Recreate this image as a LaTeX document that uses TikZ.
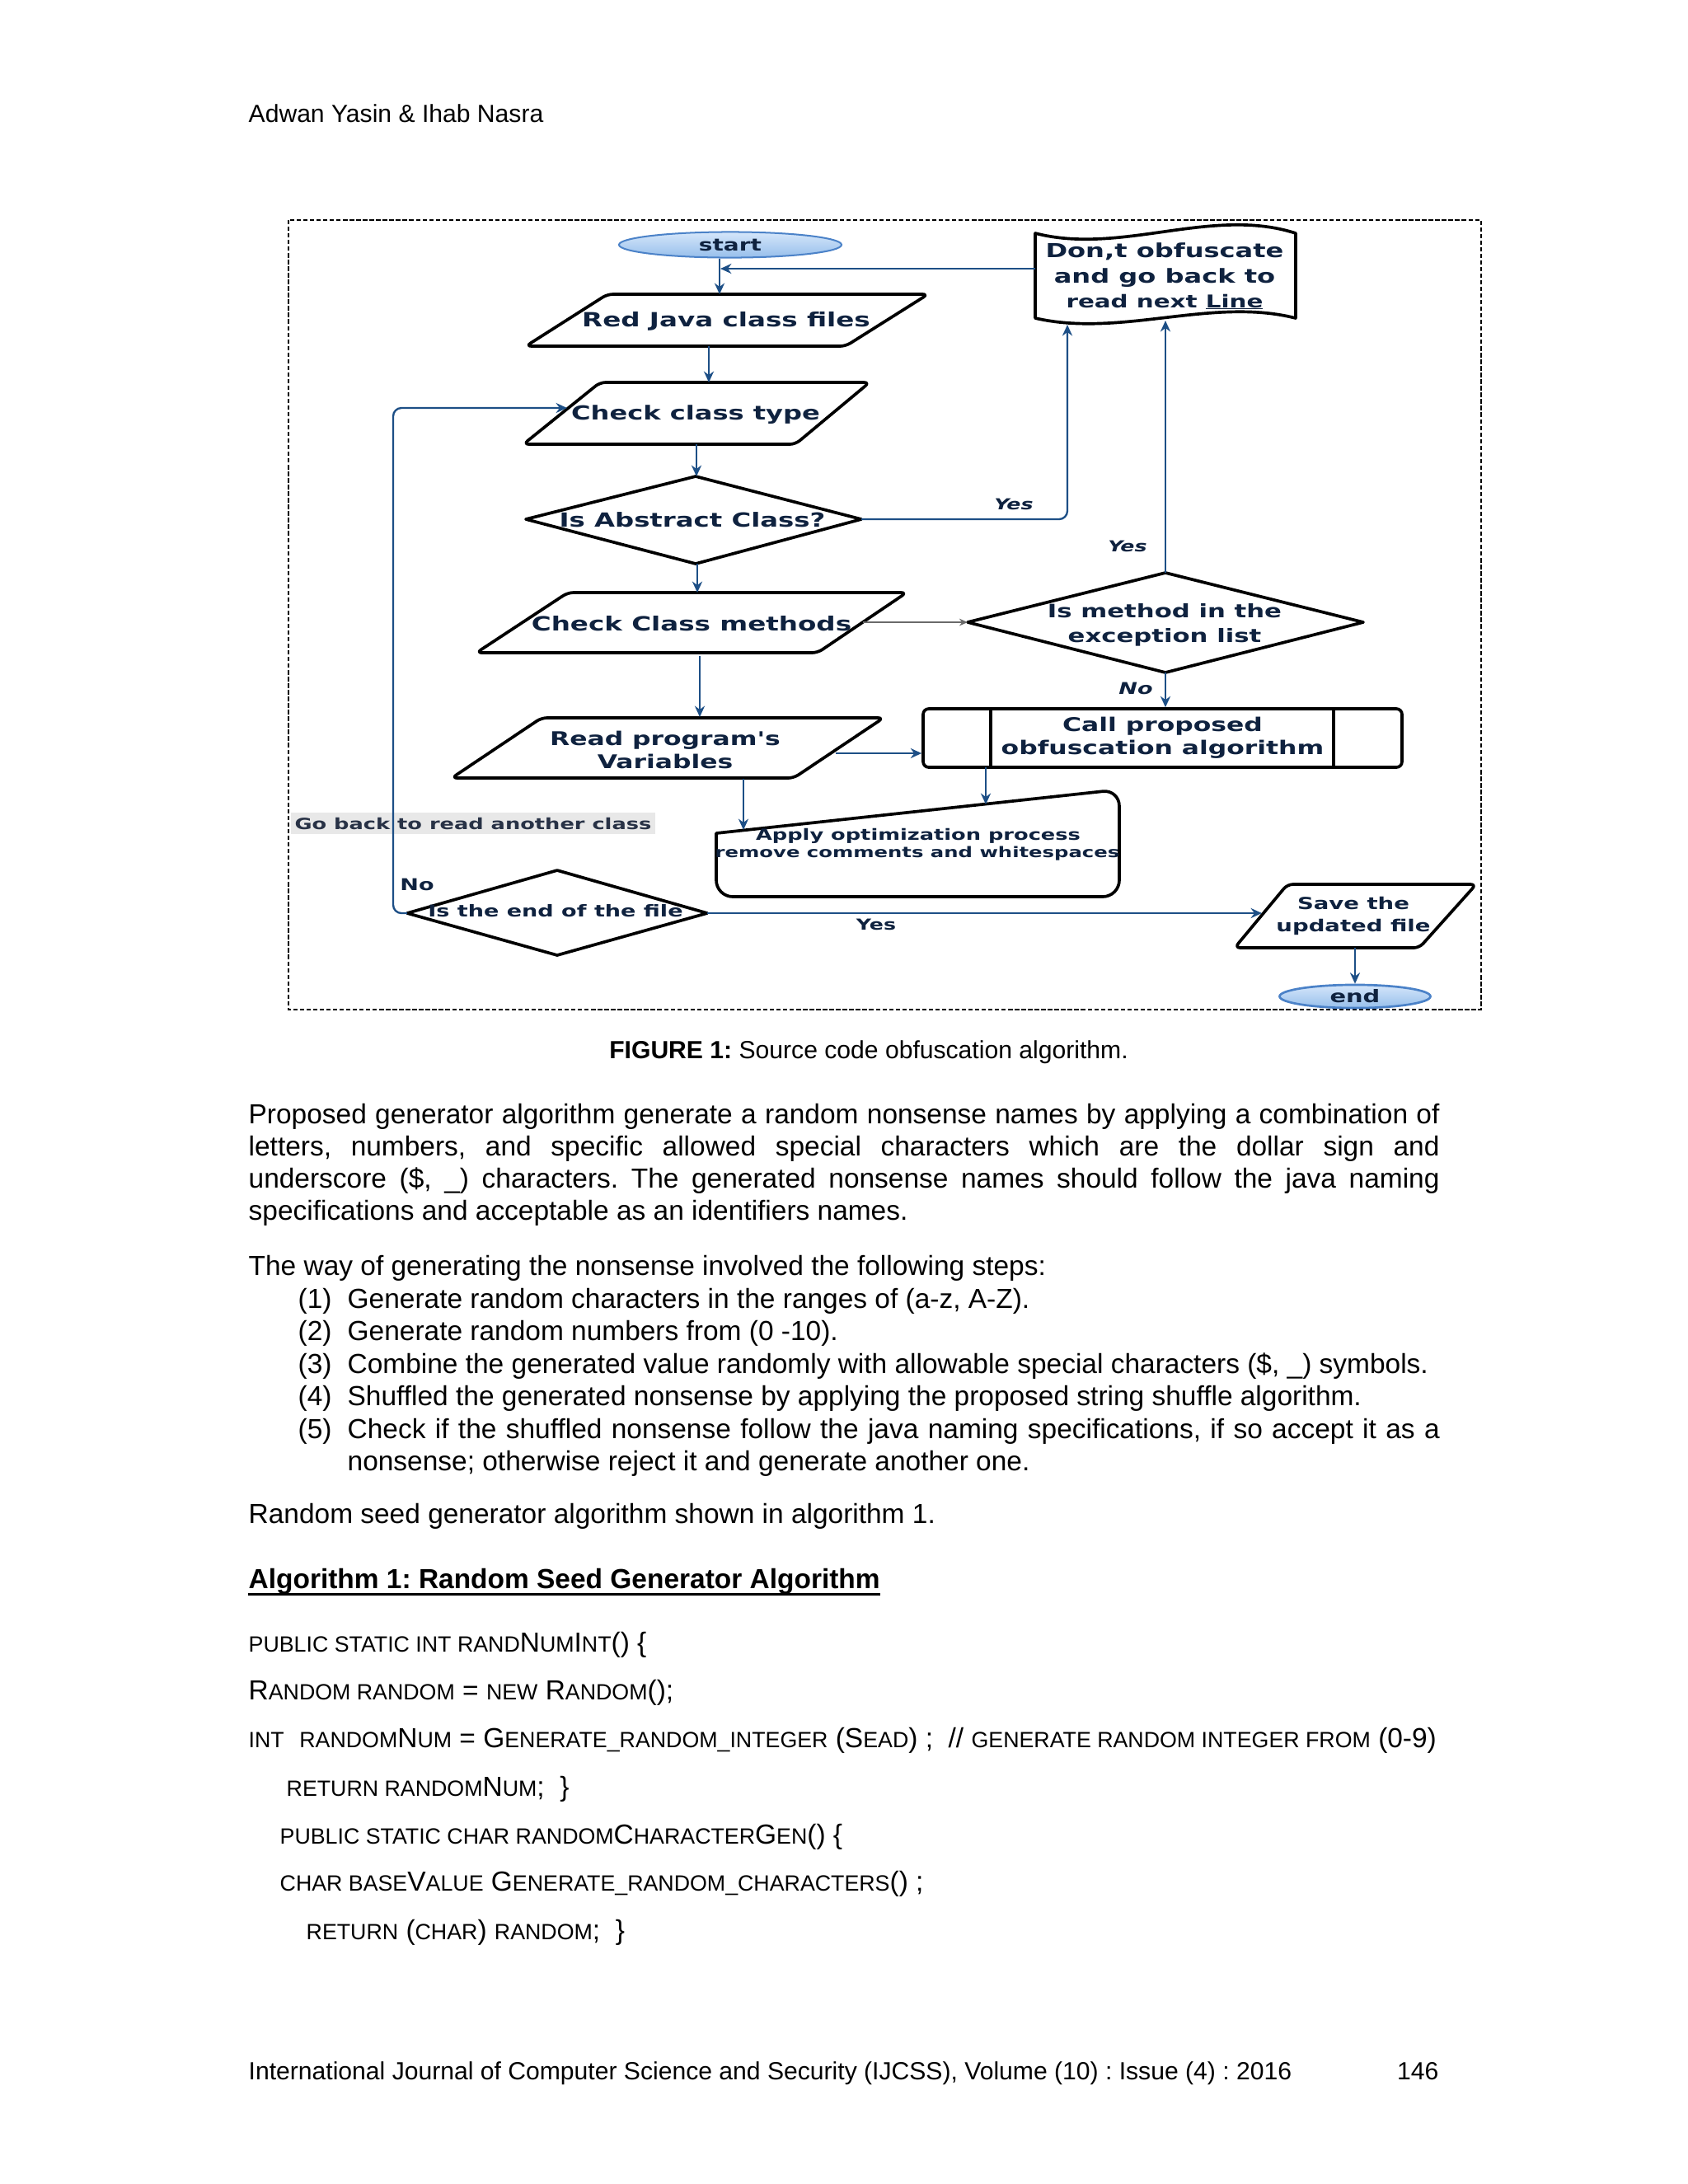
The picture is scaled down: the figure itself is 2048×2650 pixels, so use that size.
\documentclass[tikz,border=0pt]{standalone}
\usepackage{fontspec}
\setmainfont{Liberation Sans}
\newfontfamily\fcf[FakeStretch=1.37]{DejaVu Sans}
\usetikzlibrary{arrows.meta,shapes.geometric}
\frenchspacing
\definecolor{navy}{HTML}{0F223F}
\definecolor{conblue}{HTML}{1D4F86}
\definecolor{ellt}{HTML}{D5E6FA}
\definecolor{ellb}{HTML}{97BFEB}
\definecolor{elld}{HTML}{4B82C8}
\definecolor{lblbg}{HTML}{E8E8E8}
\definecolor{lbltx}{HTML}{283246}
\definecolor{grayarr}{HTML}{6A6A6A}
\newcommand\ffs[2]{\fcf\bfseries\fontsize{#1}{#2}\selectfont}
\newcommand\ffi[2]{\fcf\bfseries\itshape\fontsize{#1}{#2}\selectfont}
\newcommand\sm[1]{{\fontsize{8}{9}\selectfont #1}}
\newcommand\jl[2]{\makebox[#1][s]{#2}}
\newcommand\ulword[1]{{\setbox0\hbox{#1}\rlap{\rule[-0.5pt]{\wd0}{0.35pt}}#1}}
\begin{document}
\begin{tikzpicture}[x=0.29883pt,y=-0.29883pt,
  shp/.style={draw=black, line width=1.1pt, rounded corners=2pt, line join=round},
  conn/.style={draw=conblue, line width=0.7pt, -{Stealth[length=4pt,width=3.6pt]}},
  ft/.style={text=navy, inner sep=0pt, align=center},
  bodytxt/.style={inner sep=0pt, anchor=base west, font=\fontsize{10}{11.5}\selectfont},
  pgtxt/.style={inner sep=0pt, anchor=base west, font=\fontsize{9}{10.5}\selectfont}]
\useasboundingbox (0,0) rectangle (2048,2650);
\fill[white] (0,0) rectangle (2048,2650);

% ---------------- page text ----------------
\node[pgtxt] (hdr) at (301,148) {Adwan Yasin \& Ihab Nasra};

% ---------------- figure frame ----------------
\draw[black, line width=0.35pt, dash pattern=on 1.6pt off 0.8pt] (350,267) rectangle (1797,1225);

% ---------------- shapes ----------------
\node[ellipse, draw=elld, line width=0.6pt, top color=ellt, bottom color=ellb,
      minimum width=80.7pt, minimum height=9.3pt, inner sep=0pt, text=navy,
      font={\ffs{6.1}{7}}] (start) at (886,297) {start};
\node[ellipse, draw=elld, line width=0.8pt, top color=ellt, bottom color=ellb,
      minimum width=54.7pt, minimum height=8.4pt, inner sep=0pt, text=navy,
      font={\ffs{6.3}{7}}] (end) at (1644,1209) {end};

% Don't obfuscate (tape)
\draw[shp, rounded corners=0pt] (1256,283) .. controls (1360,310) and (1470,250) .. (1572,283)
   -- (1572,386) .. controls (1470,360) and (1360,410) .. (1256,386) -- cycle;
\node[ft, font={\ffs{7.0}{9}}] (dont) at (1413,335)
   {Don,t obfuscate\\and go back to\\{\fontsize{6.4}{9}\selectfont read next \ulword{Line}}};

% Red Java class files
\draw[shp] (737,357) -- (1126,357) -- (1026,420) -- (638,420) -- cycle;
\node[ft, font={\ffs{7.1}{9}}] (rj) at (881,390) {Red Java class files};

% Check class type
\draw[shp] (728,464) -- (1055,464) -- (965,539) -- (635,539) -- cycle;
\node[ft, font={\ffs{7.0}{9}}] (ct) at (844,503) {Check class type};

% Is Abstract Class?
\draw[shp, rounded corners=0pt] (638,630) -- (844,578) -- (1045,630) -- (844,684) -- cycle;
\node[ft, font={\ffs{7.05}{9}}] (ab) at (840,631) {Is Abstract Class?};

% Check Class methods
\draw[shp] (689,719) -- (1100,719) -- (992,792) -- (578,792) -- cycle;
\node[ft, font={\ffs{7.1}{9}}] (cm) at (839,757) {Check Class methods};

% Is method in the exception list
\draw[shp, rounded corners=0pt] (1174,755) -- (1414,695) -- (1654,755) -- (1414,816) -- cycle;
\node[ft, font={\ffs{6.7}{9}}] (im) at (1413,758) {Is method in the\\exception list};

% Call proposed obfuscation algorithm
\node[draw=black, line width=1.1pt, rounded corners=2pt, minimum width=173.6pt, minimum height=21.2pt,
      inner sep=0pt, text=navy, align=center, font={\ffs{6.85}{8.4}}] (call) at (1410.5,895.5)
      {Call proposed\\obfuscation algorithm};
\draw[black, line width=1.1pt] (1202,860) -- (1202,931);
\draw[black, line width=1.1pt] (1618,860) -- (1618,931);

% Read program's Variables
\draw[shp] (657,871) -- (1072,871) -- (963,944) -- (548,944) -- cycle;
\node[ft, font={\ffs{6.85}{8.4}}] (rp) at (807,910) {Read program's\\Variables};

% Apply optimization process
\draw[shp, rounded corners=6pt, line cap=round] (869,1011) -- (1358,958) -- (1358,1088) -- (869,1088) -- (869,1011);
\node[ft, font={\ffs{5.6}{6.6}}] (ap1) at (1114,1014) {Apply optimization process};
\node[ft, font={\ffs{5.3}{6.6}}] (ap2) at (1113,1036) {remove comments and whitespaces};

% Go back label (under the loop line)
\node[fill=lblbg, text=lbltx, inner xsep=1.5pt, inner ysep=1.6pt, font={\ffs{5.6}{7}}] (goback) at (574,999)
   {Go back to read another class};

% Is the end of the file
\draw[shp, rounded corners=0pt] (494,1108) -- (676,1056) -- (858,1108) -- (676,1159) -- cycle;
\node[ft, font={\ffs{5.9}{7}}] (ie) at (674,1105) {Is the end of the file};

% Save the updated file
\draw[shp] (1562,1073) -- (1791,1073) -- (1722,1150) -- (1498,1150) -- cycle;
\node[ft, font={\ffs{6.0}{8.1}}] (sv) at (1642,1111) {Save the\\updated file};

% ---------------- connection points ----------------
\coordinate (rj-in) at (873,357);
\coordinate (join) at (874,326);
\coordinate (dont-l) at (1256,326);
\coordinate (rj-out) at (860,420);
\coordinate (ct-in) at (860,464);
\coordinate (ct-out) at (845,539);
\coordinate (ab-t) at (845,578);
\coordinate (ab-b) at (846,684);
\coordinate (cm-in) at (846,719);
\coordinate (ab-r) at (1045,630);
\coordinate (dont-b1) at (1295,394);
\coordinate (im-t) at (1414,695);
\coordinate (dont-b2) at (1414,389);
\coordinate (cm-r) at (1047,755);
\coordinate (im-l) at (1174,755);
\coordinate (im-b) at (1414,816);
\coordinate (cm-b) at (849,796);
\coordinate (rp-t) at (849,870);
\coordinate (rp-r) at (1014,914);
\coordinate (rp-b) at (902,945);
\coordinate (ap-t1) at (902,1007);
\coordinate (call-b) at (1196,931);
\coordinate (ap-t2) at (1196,976);
\coordinate (ie-l) at (494,1108);
\coordinate (ct-l) at (688,495);
\coordinate (ie-r) at (858,1108);
\coordinate (sv-l) at (1531,1108);
\coordinate (sv-b) at (1644,1150);

% ---------------- connectors ----------------
\draw[conn] (start.south -| rj-in) -- (rj-in);
\draw[conn] (dont-l) -- (join);
\draw[conn] (rj-out) -- (ct-in);
\draw[conn] (ct-out) -- (ab-t);
\draw[conn] (ab-b) -- (cm-in);
\draw[conn, rounded corners=3pt] (ab-r) -- (dont-b1 |- ab-r) -- (dont-b1);
\draw[conn] (im-t) -- (dont-b2);
\draw[draw=grayarr, line width=0.45pt, -{Stealth[length=3pt,width=2.6pt]}] (cm-r) -- (im-l);
\draw[conn] (im-b) -- (call.north -| im-b);
\draw[conn] (cm-b) -- (rp-t);
\draw[conn] (rp-r) -- (call.west |- rp-r);
\draw[conn] (rp-b) -- (ap-t1);
\draw[conn] (call-b) -- (ap-t2);
\draw[conn, rounded corners=3pt] (ie-l) -- (477,1108) -- (477,495) -- (ct-l);
\draw[conn] (ie-r) -- (sv-l);
\draw[conn] (sv-b) -- (end.north);

% ---------------- connector labels ----------------
\node[ft, font={\ffi{5.5}{7}}] (y1) at (1230,612) {Yes};
\node[ft, font={\ffi{5.5}{7}}] (y2) at (1368,663) {Yes};
\node[ft, font={\ffi{5.9}{7}}] (n1) at (1378,835) {No};
\node[ft, font={\ffs{5.9}{7}}] (n2) at (506,1073) {No};
\node[ft, font={\ffs{5.5}{7}}] (y3) at (1063,1122) {Yes};

% ---------------- caption & body ----------------
\node[inner sep=0pt, anchor=base, font=\fontsize{9}{10.5}\selectfont] (cap) at (1054,1284)
   {\textbf{FIGURE 1:} Source code obfuscation algorithm.};

\node[bodytxt] (p1) at (301,1363) {\jl{431.8pt}{Proposed generator algorithm generate a random nonsense names by applying a combination of}};
\node[bodytxt] (p2) at (301,1402) {\jl{431.8pt}{letters, numbers, and specific allowed special characters which are the dollar sign and}};
\node[bodytxt] (p3) at (301,1441) {\jl{431.8pt}{underscore (\$, \_) characters. The generated nonsense names should follow the java naming}};
\node[bodytxt] (p4) at (301,1480) {specifications and acceptable as an identifiers names.};

\node[bodytxt] (w0) at (301,1547) {The way of generating the nonsense involved the following steps:};
\node[bodytxt] (n1a) at (361,1587) {(1)};
\node[bodytxt] (s1) at (421,1587) {Generate random characters in the ranges of (a-z, A-Z).};
\node[bodytxt] (n2a) at (361,1626) {(2)};
\node[bodytxt] (s2) at (421,1626) {Generate random numbers from (0 -10).};
\node[bodytxt] (n3a) at (361,1666) {(3)};
\node[bodytxt] (s3) at (421,1666) {Combine the generated value randomly with allowable special characters (\$, \_) symbols.};
\node[bodytxt] (n4a) at (361,1705) {(4)};
\node[bodytxt] (s4) at (421,1705) {Shuffled the generated nonsense by applying the proposed string shuffle algorithm.};
\node[bodytxt] (n5a) at (361,1745) {(5)};
\node[bodytxt] (s5) at (421,1745) {\jl{396pt}{Check if the shuffled nonsense follow the java naming specifications, if so accept it as a}};
\node[bodytxt] (s5b) at (421,1784) {nonsense; otherwise reject it and generate another one.};

\node[bodytxt] (rs) at (301,1848) {Random seed generator algorithm shown in algorithm 1.};
\node[bodytxt] (alg) at (301,1927) {\textbf{Algorithm 1: Random Seed Generator Algorithm}};
\draw[black, line width=0.8pt] ([yshift=-2.2pt]alg.base west) -- ([yshift=-2.2pt]alg.base east);

\node[bodytxt] (c1) at (301,2004) {\sm{PUBLIC STATIC INT RAND}N\sm{UM}I\sm{NT}() \{};
\node[bodytxt] (c2) at (301,2062) {R\sm{ANDOM RANDOM} = \sm{NEW} R\sm{ANDOM}();};
\node[bodytxt] (c3) at (301,2120) {\sm{INT}\ \ \sm{RANDOM}N\sm{UM} = G\sm{ENERATE\_RANDOM\_INTEGER} (S\sm{EAD}) ;\ \ // \sm{GENERATE RANDOM INTEGER FROM} (0-9)};
\node[bodytxt] (c4) at (347,2179) {\sm{RETURN RANDOM}N\sm{UM};\ \ \}};
\node[bodytxt] (c5) at (339,2237) {\sm{PUBLIC STATIC CHAR RANDOM}C\sm{HARACTER}G\sm{EN}() \{};
\node[bodytxt] (c6) at (339,2294) {\sm{CHAR BASE}V\sm{ALUE} G\sm{ENERATE\_RANDOM\_CHARACTERS}() ;};
\node[bodytxt] (c7) at (371,2353) {\sm{RETURN} (\sm{CHAR}) \sm{RANDOM};\ \ \}};

\node[pgtxt] (foot) at (301,2523) {International Journal of Computer Science and Security (IJCSS), Volume (10) : Issue (4) : 2016};
\node[pgtxt, anchor=base east] (pg) at (1746,2523) {146};
\end{tikzpicture}
\end{document}
